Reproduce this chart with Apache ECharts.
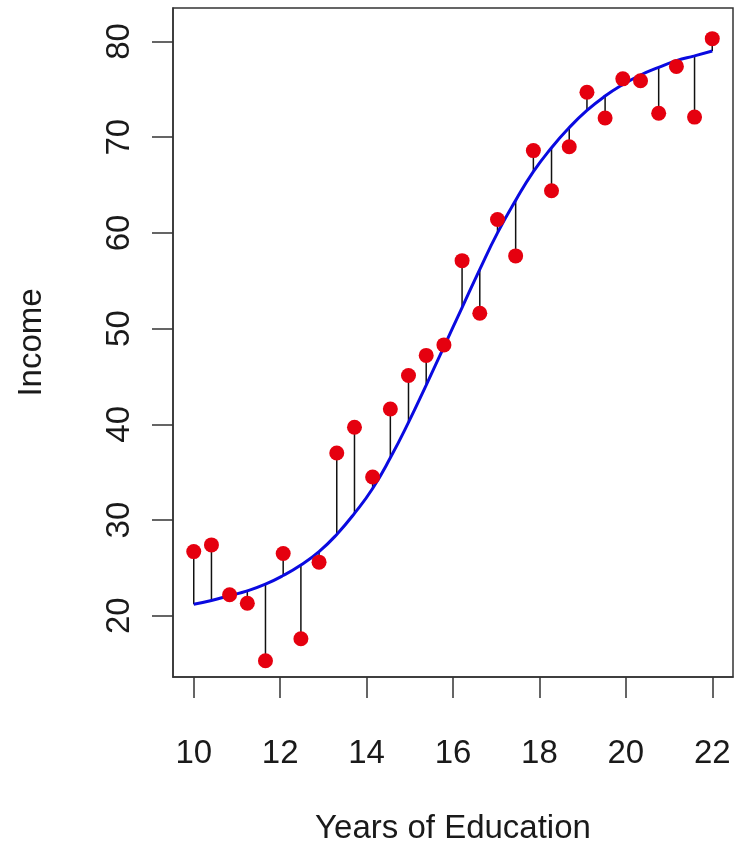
<!DOCTYPE html>
<html>
<head>
<meta charset="utf-8">
<title>Income vs Years of Education</title>
<script src="https://cdn.jsdelivr.net/npm/echarts@6/dist/echarts.min.js"></script>
<style>
  html, body { margin: 0; padding: 0; background: #ffffff; }
  #chart { width: 737px; height: 845px; }
</style>
</head>
<body>
<div id="chart"></div>
<script>
// Years of education for each respondent
const education = [10, 10.41, 10.83, 11.24, 11.66, 12.07, 12.48, 12.90, 13.31, 13.72,
                   14.14, 14.55, 14.97, 15.38, 15.79, 16.21, 16.62, 17.03, 17.45, 17.86,
                   18.28, 18.69, 19.10, 19.52, 19.93, 20.34, 20.76, 21.17, 21.59, 22.00];

// Observed income
const income = [26.7, 27.4, 22.2, 21.3, 15.3, 26.5, 17.6, 25.6, 37.0, 39.7,
                34.5, 41.6, 45.1, 47.2, 48.3, 57.1, 51.6, 61.4, 57.6, 68.6,
                64.4, 69.0, 74.7, 72.0, 76.1, 75.9, 72.5, 77.4, 72.1, 80.3];

// Fitted (true) income curve at the same education values
const fitted = [21.2, 21.6, 22.1, 22.6, 23.3, 24.2, 25.3, 26.7, 28.5, 30.7,
                33.3, 36.5, 40.2, 44.1, 48.1, 52.2, 56.2, 60.0, 63.4, 66.4,
                68.9, 71.0, 72.8, 74.3, 75.5, 76.5, 77.3, 78.0, 78.5, 79.0];

// Tick positions
const xTicks = [10, 12, 14, 16, 18, 20, 22];
const yTicks = [20, 30, 40, 50, 60, 70, 80];

const points = education.map((x, i) => [x, income[i]]);
const curve = education.map((x, i) => [x, fitted[i]]);
const residuals = education.map((x, i) => [x, income[i], fitted[i]]);

const textColor = '#1a1a1a';
const frameColor = '#333333';
const font = 'Liberation Sans, Arial, Helvetica, sans-serif';

const chart = echarts.init(document.getElementById('chart'), null, { renderer: 'canvas' });

chart.setOption({
  backgroundColor: '#ffffff',
  animation: false,
  grid: {
    left: 173, top: 8, right: 4, bottom: 168,
    outerBoundsMode: 'none',
    containLabel: false,
    show: true,
    borderColor: frameColor,
    borderWidth: 1.5,
    backgroundColor: 'transparent'
  },
  xAxis: {
    type: 'value',
    min: 9.52,
    max: 22.48,
    name: 'Years of Education',
    nameLocation: 'middle',
    nameGap: 135,
    nameTextStyle: { color: textColor, fontSize: 33, fontFamily: font },
    splitLine: { show: false },
    axisLine: { show: true, onZero: false, lineStyle: { color: frameColor, width: 1.5 } },
    axisTick: {
      show: true, inside: false, length: 21,
      customValues: xTicks,
      lineStyle: { color: frameColor, width: 1.5 }
    },
    axisLabel: {
      show: true, margin: 60,
      customValues: xTicks,
      color: textColor, fontSize: 33, fontFamily: font
    }
  },
  yAxis: {
    type: 'value',
    min: 13.6,
    max: 83.5,
    name: 'Income',
    nameLocation: 'middle',
    nameRotate: 90,
    nameGap: 125,
    nameTextStyle: { color: textColor, fontSize: 33, fontFamily: font },
    splitLine: { show: false },
    axisLine: { show: true, onZero: false, lineStyle: { color: frameColor, width: 1.5 } },
    axisTick: {
      show: true, inside: false, length: 21,
      customValues: yTicks,
      lineStyle: { color: frameColor, width: 1.5 }
    },
    axisLabel: {
      show: true, margin: 37, rotate: 90,
      customValues: yTicks,
      color: textColor, fontSize: 33, fontFamily: font
    }
  },
  series: [
    {
      // vertical residual segments from each observation to the curve
      type: 'custom',
      z: 1,
      silent: true,
      data: residuals,
      encode: { x: 0, y: [1, 2] },
      renderItem: function (params, api) {
        const a = api.coord([api.value(0), api.value(1)]);
        const b = api.coord([api.value(0), api.value(2)]);
        return {
          type: 'line',
          shape: { x1: a[0], y1: a[1], x2: b[0], y2: b[1] },
          style: { stroke: '#111111', lineWidth: 1.5 }
        };
      }
    },
    {
      type: 'line',
      z: 2,
      data: curve,
      smooth: 0.5,
      showSymbol: false,
      symbol: 'none',
      lineStyle: { color: '#0a0ae0', width: 3 }
    },
    {
      type: 'scatter',
      z: 3,
      data: points,
      symbol: 'circle',
      symbolSize: 15,
      itemStyle: { color: '#e5000f', opacity: 1 }
    }
  ]
});
</script>
</body>
</html>
